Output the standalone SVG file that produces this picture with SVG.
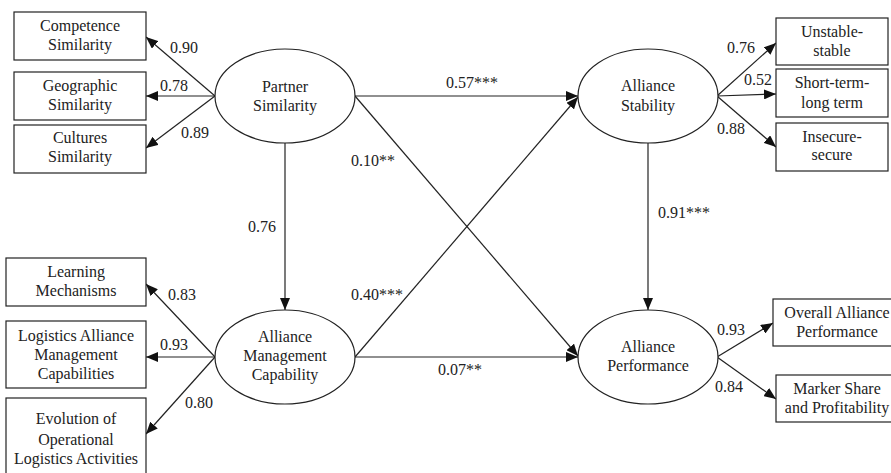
<svg xmlns="http://www.w3.org/2000/svg" width="891" height="473" viewBox="0 0 891 473">
<defs>
<style>
text{font-family:'Liberation Serif','Times New Roman',Times,'DejaVu Serif',serif;font-size:16px;fill:#222;text-anchor:middle}
.box{fill:#fff;stroke:#222;stroke-width:1.2}
.ell{fill:#fff;stroke:#222;stroke-width:1.2}
.c line{stroke:#222;stroke-width:1.2;marker-end:url(#ah)}
</style>
<marker id="ah" viewBox="0 0 12 10" refX="12" refY="5" markerWidth="12" markerHeight="10" markerUnits="userSpaceOnUse" orient="auto">
<path d="M0,0 L12,5 L0,10 Z" fill="#111"/>
</marker>
</defs>
<rect width="891" height="473" fill="#fff"/>
<g class="c" id="connectors">
<line x1="215" y1="96" x2="146" y2="37"/>
<line x1="215" y1="96" x2="146" y2="96"/>
<line x1="215" y1="96" x2="146" y2="148"/>
<line x1="717" y1="96" x2="776" y2="43"/>
<line x1="717" y1="96" x2="776" y2="94"/>
<line x1="717" y1="96" x2="776" y2="147"/>
<line x1="215" y1="357" x2="146" y2="284"/>
<line x1="215" y1="357" x2="146" y2="357"/>
<line x1="215" y1="357" x2="146" y2="434"/>
<line x1="717" y1="357" x2="773" y2="323"/>
<line x1="717" y1="357" x2="776" y2="399"/>
<line x1="285" y1="143" x2="285" y2="310"/>
<line x1="648" y1="143" x2="648" y2="310"/>
<line x1="355" y1="96" x2="578" y2="96"/>
<line x1="355" y1="96" x2="578" y2="356"/>
<line x1="355" y1="357" x2="578" y2="97"/>
<line x1="355" y1="357" x2="578" y2="357"/>
</g>
<g id="labels">
<text x="184" y="53">0.90</text>
<text x="174" y="91">0.78</text>
<text x="195" y="138">0.89</text>
<text x="741" y="53">0.76</text>
<text x="758" y="85">0.52</text>
<text x="731" y="134">0.88</text>
<text x="182" y="300">0.83</text>
<text x="174" y="350">0.93</text>
<text x="199" y="408">0.80</text>
<text x="731" y="335">0.93</text>
<text x="729" y="392">0.84</text>
<text x="472" y="88">0.57***</text>
<text x="373" y="166">0.10**</text>
<text x="262" y="232">0.76</text>
<text x="684" y="218">0.91***</text>
<text x="377" y="300">0.40***</text>
<text x="460" y="375">0.07**</text>
</g>
<g id="partner-similarity">
<ellipse class="ell" cx="285" cy="96" rx="70" ry="47"/>
<text x="285" y="92">Partner</text>
<text x="285" y="111">Similarity</text>
</g>
<g id="alliance-stability">
<ellipse class="ell" cx="648" cy="96" rx="70" ry="47"/>
<text x="648" y="91">Alliance</text>
<text x="648" y="111">Stability</text>
</g>
<g id="alliance-management-capability">
<ellipse class="ell" cx="285" cy="357" rx="70" ry="47"/>
<text x="285" y="342">Alliance</text>
<text x="285" y="361">Management</text>
<text x="285" y="380">Capability</text>
</g>
<g id="alliance-performance">
<ellipse class="ell" cx="648" cy="357" rx="70" ry="47"/>
<text x="648" y="352">Alliance</text>
<text x="648" y="371">Performance</text>
</g>
<g id="competence-similarity">
<rect class="box" x="14" y="12" width="132" height="48"/>
<text x="80" y="31">Competence</text>
<text x="80" y="50">Similarity</text>
</g>
<g id="geographic-similarity">
<rect class="box" x="14" y="72" width="132" height="48"/>
<text x="80" y="91">Geographic</text>
<text x="80" y="110">Similarity</text>
</g>
<g id="cultures-similarity">
<rect class="box" x="14" y="125" width="132" height="48"/>
<text x="80" y="143">Cultures</text>
<text x="80" y="162">Similarity</text>
</g>
<g id="unstable-stable">
<rect class="box" x="776" y="18" width="112" height="47"/>
<text x="832" y="37">Unstable-</text>
<text x="832" y="56">stable</text>
</g>
<g id="short-term-long-term">
<rect class="box" x="776" y="69" width="112" height="48"/>
<text x="832" y="88">Short-term-</text>
<text x="832" y="108">long term</text>
</g>
<g id="insecure-secure">
<rect class="box" x="776" y="123" width="112" height="48"/>
<text x="832" y="142">Insecure-</text>
<text x="832" y="160">secure</text>
</g>
<g id="learning-mechanisms">
<rect class="box" x="6" y="258" width="140" height="48"/>
<text x="76" y="277">Learning</text>
<text x="76" y="296">Mechanisms</text>
</g>
<g id="logistics-alliance-management-capabilities">
<rect class="box" x="6" y="321" width="140" height="67"/>
<text x="76" y="341">Logistics Alliance</text>
<text x="76" y="360">Management</text>
<text x="76" y="379">Capabilities</text>
</g>
<g id="evolution-operational-logistics">
<rect class="box" x="6" y="398" width="140" height="90"/>
<text x="76" y="424">Evolution of</text>
<text x="76" y="445">Operational</text>
<text x="76" y="464">Logistics Activities</text>
</g>
<g id="overall-alliance-performance">
<rect class="box" x="773" y="299" width="130" height="47"/>
<text x="837" y="318">Overall Alliance</text>
<text x="837" y="337">Performance</text>
</g>
<g id="marker-share-profitability">
<rect class="box" x="776" y="375" width="127" height="47"/>
<text x="837" y="394">Marker Share</text>
<text x="837" y="413">and Profitability</text>
</g>
</svg>
